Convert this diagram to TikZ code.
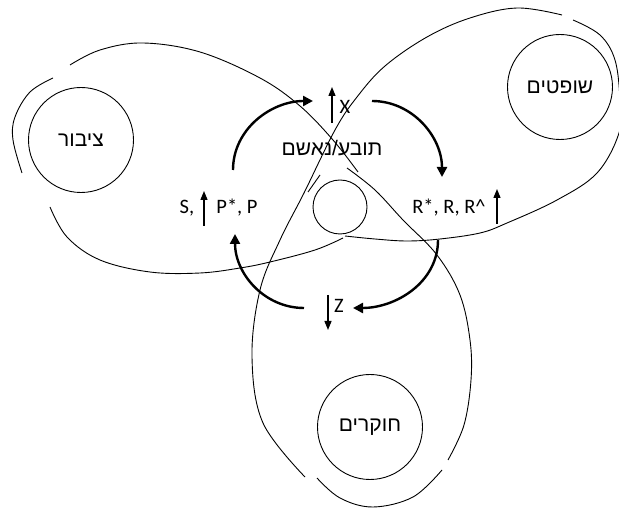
\documentclass[tikz,border=0pt]{standalone}
\usepackage{fontspec}
\setmainfont{Carlito}
\newfontfamily\hebfont[Script=Hebrew]{Liberation Sans}
\TeXXeTstate=1
\usetikzlibrary{arrows.meta}
\newcommand{\heb}[1]{{\hebfont\fontsize{21}{24}\selectfont\beginR #1\endR}}

\begin{document}
\begin{tikzpicture}[x=1pt, y=-1pt, font=\fontsize{20.5}{24}\selectfont,
    loopline/.style={line width=0.9pt},
    actor/.style={circle, draw, line width=0.9pt, minimum size=105pt, inner sep=0pt},
    flow/.style={line width=2.4pt, -{Triangle[length=10pt,width=10pt]}},
    signarrow/.style={line width=1.3pt, -{Triangle[length=9pt,width=7pt]}}]
  \useasboundingbox (0,0) rectangle (619,510);

  % the three loops of the knot, piece by piece
  \draw[loopline] plot[smooth, tension=0.6] coordinates {(70,65) (100,50) (143,43) (200,52) (260,78) (300,106) (333,140) (358,172)};
  \draw[loopline] plot[smooth, tension=0.6] coordinates {(347,168) (375,190) (403,220) (437,255) (460,295) (470,340) (471,380) (464,425) (448,460)};
  \draw[loopline] plot[smooth, tension=0.6] coordinates {(442,470) (413,497) (373,507) (340,498) (317,478)};
  \draw[loopline] plot[smooth, tension=0.6] coordinates {(305,477) (263,423) (252,357) (260,290) (280,240) (304,193) (335,130) (357,97) (385,66) (427,37) (470,18) (517,8) (562,15)};
  \draw[loopline] plot[smooth, tension=0.6] coordinates {(573,20) (600,35) (615,60) (620,100) (619,133) (597,173) (557,200) (507,223) (480,233) (440,239) (407,241) (375,239) (345,236)};
  \draw[loopline] plot[smooth, tension=0.6] coordinates {(343,238) (315,250) (270,262) (240,268) (200,273) (150,272) (100,260) (67,237) (50,207)};
  \draw[loopline] plot[smooth, tension=0.6] coordinates {(53,78) (30,92) (15,117) (13,140) (22,173)};
  \draw[loopline] (320,175) -- (308,192);

  % actors
  \node[actor] (public) at (81,140) {\heb{ציבור}};
  \node[actor] (judges) at (560,87) {\heb{שופטים}};
  \node[actor] (police) at (370,427) {\heb{חוקרים}};
  \node[actor, minimum size=54pt] (core) at (340,207) {};
  \node (accused) at (332,148) {\heb{תובע/נאשם}};

  % thick flow arrows round the middle
  \coordinate (f1s) at (233,170);
  \coordinate (f1e) at (313,101);
  \coordinate (f2s) at (372,101);
  \coordinate (f2e) at (442,177);
  \coordinate (f3s) at (438,240);
  \coordinate (f3e) at (353,308);
  \coordinate (f4s) at (304,308);
  \coordinate (f4e) at (235,234);
  \draw[flow] (f1s) to[out=90, in=180] (f1e);
  \draw[flow] (f2s) to[out=0, in=90] (f2e);
  \draw[flow] (f3s) to[out=-90, in=0] (f3e);
  \draw[flow] (f4s) to[out=180, in=-90] (f4e);

  % variables with their direction
  \coordinate (xlo) at (332,123);
  \coordinate (xhi) at (332,87);
  \draw[signarrow] (xlo) -- (xhi);
  \node (xlab) at (345,107) {X};

  \node (slab) at (187,208) {S,};
  \coordinate (slo) at (204,226);
  \coordinate (shi) at (204,191);
  \draw[signarrow] (slo) -- (shi);
  \node (plab) at (237,208) {P*, P};

  \node (rlab) at (449,208) {R*, R, R\^{}};
  \coordinate (rlo) at (497,224);
  \coordinate (rhi) at (497,189);
  \draw[signarrow] (rlo) -- (rhi);

  \coordinate (zhi) at (328,295);
  \coordinate (zlo) at (328,330);
  \draw[signarrow] (zhi) -- (zlo);
  \node (zlab) at (339,306) {Z};
\end{tikzpicture}
\end{document}
